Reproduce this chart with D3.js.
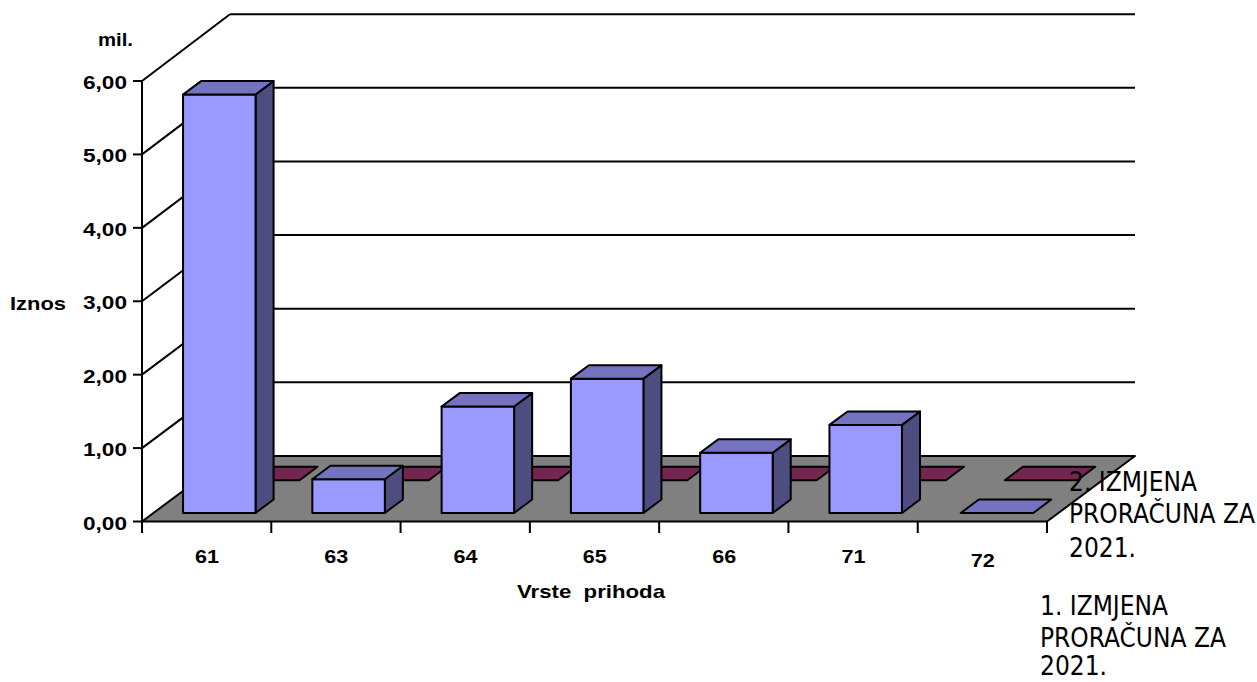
<!DOCTYPE html>
<html><head><meta charset="utf-8">
<script src="https://cdn.jsdelivr.net/npm/d3@7/dist/d3.min.js"></script>
<style>html,body{margin:0;padding:0;background:#fff}svg{display:block}</style></head>
<body><svg id="c" width="1257" height="682"></svg>
<script>
const categories = ["61","63","64","65","66","71","72"];
const prvaIzmjena = [5.70,0.46,1.45,1.83,0.82,1.20,0.00];
const drugaIzmjena = [0,0,0,0,0,0,0];
const yTicks = [0,1,2,3,4,5,6];
const frontColors = {front:"#9999ff",top:"#7373bf",side:"#4d4d80"};
const backColors = {front:"#993366",top:"#732650",side:"#4d1a33"};

const svg = d3.select("#c");
const x = d3.scaleBand().domain(categories).range([142,1047]);
const y = d3.scaleLinear().domain([0,6]).range([521.5,81]);
const yBack = d3.scaleLinear().domain([0,6]).range([456,14.2]);
const depth = d3.scaleLinear().domain([0,1]).range([0,1]);
const DX = 88, DY = -65.5;
const fmt = v => d3.format(".2f")(v).replace(".",",");
const proj = (px,py,d)=>[px+DX*depth(d), py+DY*depth(d)];
const poly = pts => pts.map(p=>p.join(",")).join(" ");
const LW = 2;

const g = svg.append("g");
g.selectAll("line.grid").data(yTicks.slice(1)).join("line")
  .attr("x1",x.range()[0]+DX).attr("x2",x.range()[1]+DX)
  .attr("y1",d=>yBack(d)).attr("y2",d=>yBack(d))
  .attr("stroke","#000").attr("stroke-width",LW);
g.append("polygon").attr("points",poly([[142,y(0)],[1047,y(0)],[1047+DX,yBack(0)],[142+DX,yBack(0)]]))
  .attr("fill","#808080").attr("stroke","#000").attr("stroke-width",LW).attr("stroke-linejoin","round");
g.selectAll("line.diag").data(yTicks.slice(1)).join("line")
  .attr("x1",142).attr("x2",142+DX)
  .attr("y1",d=>y(d)).attr("y2",d=>yBack(d))
  .attr("stroke","#000").attr("stroke-width",LW);
g.append("line").attr("x1",142).attr("x2",142).attr("y1",y(6)).attr("y2",533).attr("stroke","#000").attr("stroke-width",LW);
g.selectAll("line.yt").data(yTicks).join("line").attr("x1",133).attr("x2",142)
  .attr("y1",d=>y(d)).attr("y2",d=>y(d)).attr("stroke","#000").attr("stroke-width",LW);
const xEdges = categories.map(c=>x(c)).concat([x.range()[1]]);
g.selectAll("line.xt").data(xEdges).join("line").attr("x1",d=>d).attr("x2",d=>d)
  .attr("y1",521.5).attr("y2",533).attr("stroke","#000").attr("stroke-width",LW);

function bars(values, d0, d1, colors){
  const bw = 72.5, off = 29.6;
  const grp = svg.append("g");
  categories.forEach((c,i)=>{
    const v = values[i];
    const left = x(c)+off+(i==6?2:0), right = left+bw;
    const b0 = y(0), t0 = y(v);
    const A = proj(left,b0,d0), B = proj(right,b0,d0), C = proj(right,t0,d0), D = proj(left,t0,d0);
    const E = proj(right,b0,d1), F = proj(right,t0,d1), H = proj(left,t0,d1);
    const style = s=>s.attr("stroke","#000").attr("stroke-width",LW).attr("stroke-linejoin","round");
    if(v>0){
      style(grp.append("polygon").attr("points",poly([B,E,F,C])).attr("fill",colors.side));
      style(grp.append("polygon").attr("points",poly([A,B,C,D])).attr("fill",colors.front));
    }
    style(grp.append("polygon").attr("points",poly([D,C,F,H])).attr("fill",colors.top));
  });
}
bars(drugaIzmjena, 0.63, 0.835, backColors);
bars(prvaIzmjena, 0.13, 0.335, frontColors);

const bold = (t,xp,yp,len)=>svg.append("text").text(t)
  .attr("x",xp).attr("y",yp)
  .attr("font-family","Liberation Sans, Arial, sans-serif").attr("font-weight","bold").attr("font-size",19)
  .attr("textLength",len).attr("lengthAdjust","spacingAndGlyphs").attr("fill","#000").style("white-space","pre");
yTicks.forEach(t=>bold(fmt(t),83,y(t)+8,44));
categories.forEach((c,i)=>bold(c,x(c)+53,563+(i==6?4:0),24));
bold("mil.",98,46,35);
bold("Iznos",10,310,56);
bold("Vrste  prihoda",517,598,148);

const legendFont = "DejaVu Sans Condensed, Open Sans, sans-serif";
const leg = (lines,xp,ys)=>lines.forEach((l,i)=>svg.append("text").text(l).attr("x",xp).attr("y",ys[i])
  .attr("font-family",legendFont).attr("font-size",26).attr("fill","#000"));
const legendLines = n=>[n+". IZMJENA","PRORAČUNA ZA","2021."];
leg(legendLines(2),1069,[491,523,557]);
leg(legendLines(1),1040,[615,647,675]);
</script></body></html>
